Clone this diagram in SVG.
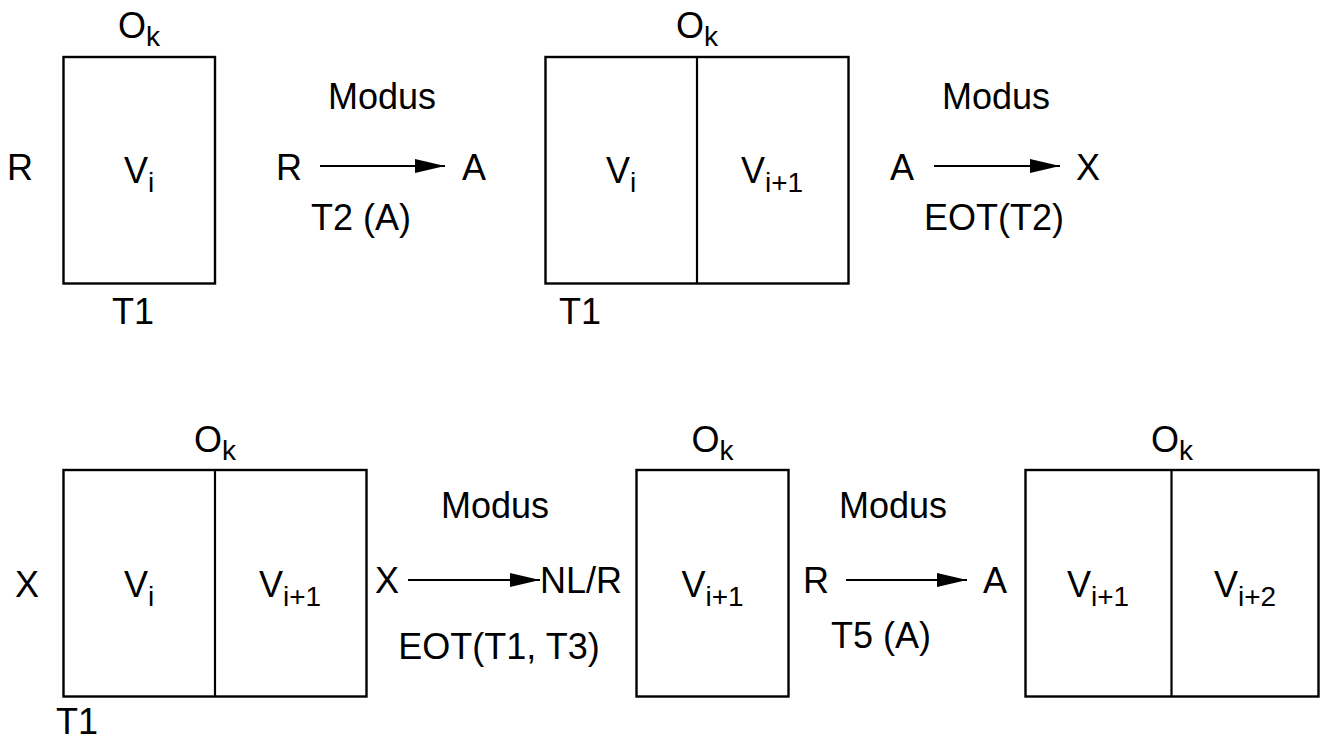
<svg xmlns="http://www.w3.org/2000/svg" width="1340" height="742" viewBox="0 0 1340 742">
<style>
text{font-family:"Liberation Sans",Arial,sans-serif;font-size:36px;fill:#000}
.m{text-anchor:middle}
.s{font-size:28px}
.box{fill:none;stroke:#000;stroke-width:2.4}
.div{stroke:#000;stroke-width:2.2}
.arr{stroke:#000;stroke-width:2;fill:none;marker-end:url(#ah)}
</style>
<defs>
<marker id="ah" markerUnits="userSpaceOnUse" markerWidth="32" markerHeight="16" refX="30" refY="7" orient="auto">
<polygon points="0,0 30,7 0,14" fill="#000"/>
</marker>
</defs>
<rect width="1340" height="742" fill="#fff"/>

<g id="state1">
<text class="m" x="139" y="38">O<tspan class="s" dy="8">k</tspan></text>
<rect class="box" x="63.5" y="57" width="151.5" height="226.5"/>
<text x="7" y="180">R</text>
<text class="m" x="139" y="183">V<tspan class="s" dy="9">i</tspan></text>
<text x="112" y="324">T1</text>
</g>

<g id="state2">
<text class="m" x="697" y="38">O<tspan class="s" dy="8">k</tspan></text>
<rect class="box" x="545.5" y="57" width="303" height="226.5"/>
<line class="div" x1="697" y1="57" x2="697" y2="283.5"/>
<text class="m" x="621" y="183">V<tspan class="s" dy="9">i</tspan></text>
<text class="m" x="772" y="183">V<tspan class="s" dy="9">i+1</tspan></text>
<text x="559" y="324">T1</text>
</g>

<g id="state3">
<text class="m" x="215" y="452">O<tspan class="s" dy="8">k</tspan></text>
<rect class="box" x="63.5" y="470" width="303" height="226.5"/>
<line class="div" x1="215" y1="470" x2="215" y2="696.5"/>
<text x="15" y="597">X</text>
<text class="m" x="139" y="597">V<tspan class="s" dy="9">i</tspan></text>
<text class="m" x="290" y="597">V<tspan class="s" dy="9">i+1</tspan></text>
<text x="56" y="734">T1</text>
</g>

<g id="state4">
<text class="m" x="712.5" y="452">O<tspan class="s" dy="8">k</tspan></text>
<rect class="box" x="636.5" y="470" width="152" height="226.5"/>
<text class="m" x="712.5" y="597">V<tspan class="s" dy="9">i+1</tspan></text>
</g>

<g id="state5">
<text class="m" x="1172" y="452">O<tspan class="s" dy="8">k</tspan></text>
<rect class="box" x="1025.5" y="470" width="293" height="226.5"/>
<line class="div" x1="1171.5" y1="470" x2="1171.5" y2="696.5"/>
<text class="m" x="1098" y="597">V<tspan class="s" dy="9">i+1</tspan></text>
<text class="m" x="1245" y="597">V<tspan class="s" dy="9">i+2</tspan></text>
</g>

<g id="connectors">
<line class="arr" x1="320" y1="166" x2="445" y2="166"/>
<line class="arr" x1="934" y1="166" x2="1060" y2="166"/>
<line class="arr" x1="408" y1="580" x2="540" y2="580"/>
<line class="arr" x1="846" y1="580" x2="967" y2="580"/>
</g>

<g id="labels">
<text class="m" x="382" y="109">Modus</text>
<text x="276" y="180">R</text>
<text x="462" y="180">A</text>
<text class="m" x="361" y="230">T2 (A)</text>

<text class="m" x="996" y="109">Modus</text>
<text x="890" y="180">A</text>
<text x="1076" y="180">X</text>
<text class="m" x="994" y="230">EOT(T2)</text>

<text class="m" x="495" y="518">Modus</text>
<text x="375" y="593">X</text>
<text x="540" y="593">NL/R</text>
<text class="m" x="499" y="659">EOT(T1, T3)</text>

<text class="m" x="893" y="518">Modus</text>
<text x="803" y="593">R</text>
<text x="983" y="593">A</text>
<text class="m" x="881" y="648">T5 (A)</text>
</g>
</svg>
